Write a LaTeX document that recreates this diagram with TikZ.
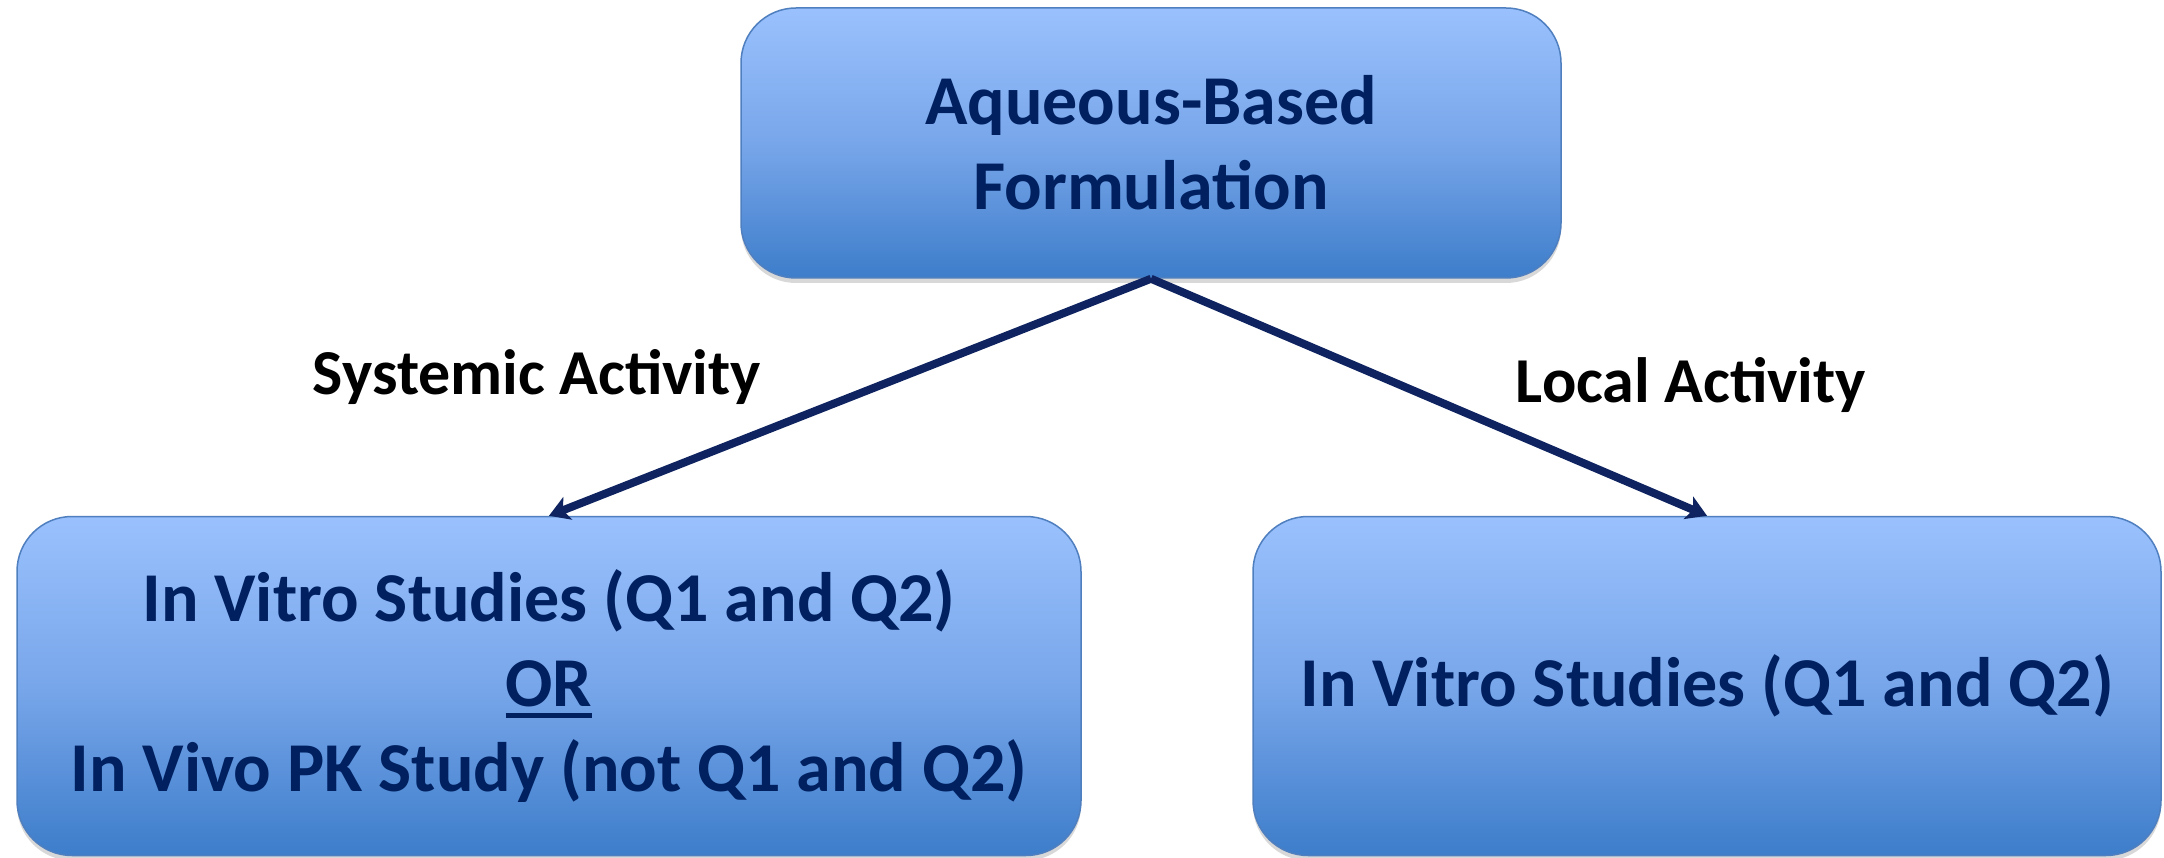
\documentclass[tikz,border=0pt]{standalone}
\usepackage{fontspec}
\setmainfont{Carlito}
\usetikzlibrary{arrows.meta,shadows}
\definecolor{navy}{HTML}{0E2360}
\definecolor{txtnavy}{HTML}{002060}
\definecolor{boxtop}{HTML}{9AC1FD}
\definecolor{boxmid}{HTML}{78A6EA}
\definecolor{boxbot}{HTML}{3D7DCA}
\definecolor{boxborder}{HTML}{4F7FBF}
\newcommand{\myul}[1]{\setbox0\hbox{#1}\rlap{\vrule width \wd0 height -7pt depth 12pt}\box0}
\begin{document}
\begin{tikzpicture}[x=1pt,y=-1pt,
  boxnode/.style={rectangle, rounded corners=55pt, draw=boxborder, line width=1.5pt,
    top color=boxtop, bottom color=boxbot, middle color=boxmid,
    drop shadow={opacity=0.3, shadow xshift=0pt, shadow yshift=-5pt},
    align=center, text=txtnavy, inner sep=0pt,
    font=\fontsize{70}{85}\selectfont\bfseries},
  lbl/.style={anchor=base, text=black, font=\fontsize{64}{76}\selectfont\bfseries, inner sep=0pt},
  conn/.style={draw=navy, line width=8pt, -{Stealth[length=20pt,width=24pt,inset=5pt]}}
]
\useasboundingbox (0,0) rectangle (2164,858);
\fill[white] (0,0) rectangle (2164,858);
\node[boxnode, minimum width=820pt, minimum height=270pt] (top) at (1151,143)
  {Aqueous-Based\\Formulation};
\node[boxnode, minimum width=1064pt, minimum height=339pt] (left) at (549,686)
  {In Vitro Studies (Q1 and Q2)\\\myul{OR}\\In Vivo PK Study (not Q1 and Q2)};
\node[boxnode, minimum width=908pt, minimum height=339pt] (right) at (1707,686)
  {In Vitro Studies (Q1 and Q2)};
\node[lbl] (sys) at (537,395) {Systemic Activity};
\node[lbl] (loc) at (1691,403) {Local Activity};
\draw[conn] (top.south) -- (left.north);
\draw[conn] (top.south) -- (right.north);
\end{tikzpicture}
\end{document}
